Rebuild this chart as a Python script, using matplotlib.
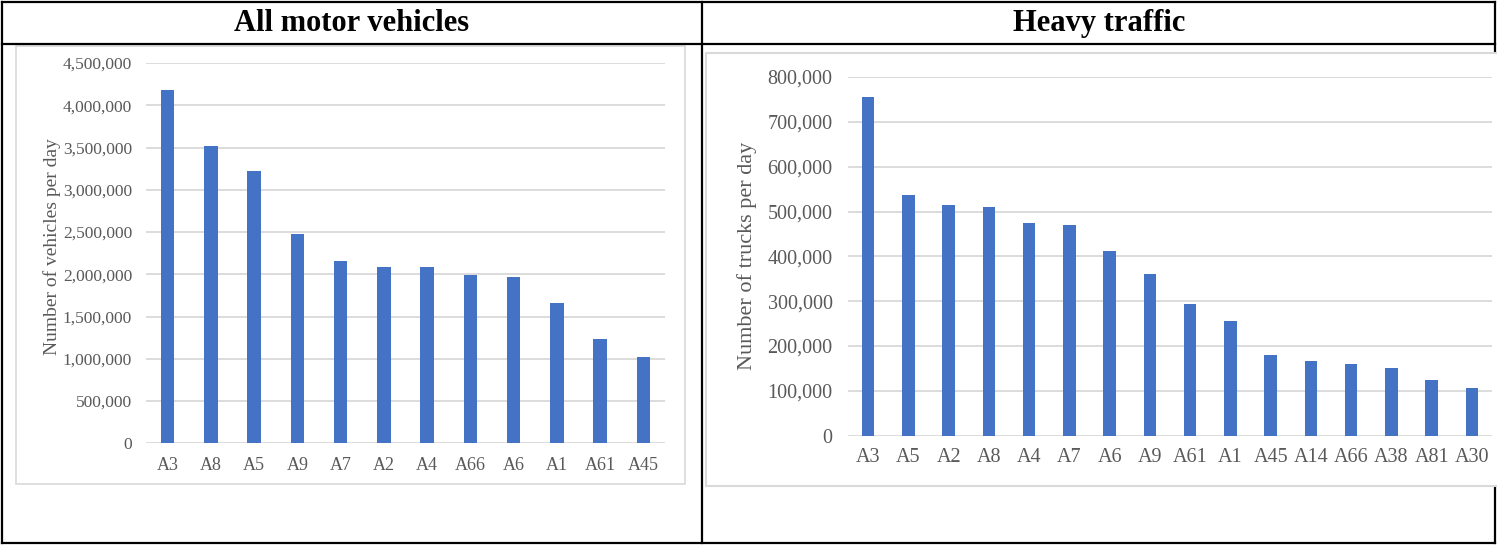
import matplotlib
matplotlib.use("Agg")
import matplotlib.pyplot as plt
from matplotlib.patches import Rectangle
from matplotlib.lines import Line2D
from matplotlib.ticker import FuncFormatter

# ---- data ----
all_roads = ["A3", "A8", "A5", "A9", "A7", "A2", "A4", "A66", "A6", "A1", "A61", "A45"]
all_values = [4180000, 3518000, 3225000, 2478000, 2158000, 2092000, 2082000, 1995000,
              1972000, 1658000, 1238000, 1020000]

heavy_roads = ["A3", "A5", "A2", "A8", "A4", "A7", "A6", "A9", "A61", "A1", "A45", "A14",
               "A66", "A38", "A81", "A30"]
heavy_values = [755000, 537000, 514000, 511000, 474000, 471000, 413000, 360000, 294000,
                256000, 180000, 166000, 160000, 152000, 125000, 107000]

titles = ["All motor vehicles", "Heavy traffic"]
ylabels = ["Number of vehicles per day", "Number of trucks per day"]

W, H = 1497, 545
fig = plt.figure(figsize=(W / 100, H / 100), dpi=100)

def fx(x):
    return x / W

def fy(y):
    return 1 - y / H

BAR = "#4472C4"
GRID = "#D9D9D9"
TXT = "#595959"
SERIF = "Liberation Serif"

# chart frames (white background, light gray border)
fig.patches.append(Rectangle((fx(16), fy(484)), fx(685 - 16), (484 - 46) / H,
                             transform=fig.transFigure, facecolor="white",
                             edgecolor=GRID, lw=1.2, zorder=1))
fig.patches.append(Rectangle((fx(706), fy(486)), fx(1505 - 706), (486 - 53) / H,
                             transform=fig.transFigure, facecolor="white",
                             edgecolor=GRID, lw=1.5, zorder=3))

# table borders
lw = 1.6
segs = [
    ((2, 2), (1495, 2)),
    ((2, 44), (1495, 44)),
    ((2, 543), (1495, 543)),
    ((2, 2), (2, 543)),
    ((702, 2), (702, 543)),
    ((1495, 2), (1495, 53)),
    ((1495, 487), (1495, 543)),
]
for (x0, y0), (x1, y1) in segs:
    fig.add_artist(Line2D([fx(x0), fx(x1)], [fy(y0), fy(y1)], transform=fig.transFigure,
                          color="black", lw=lw, zorder=2, solid_capstyle="projecting"))

# headers
fig.text(fx(352), fy(31), titles[0], ha="center", va="baseline", fontsize=22,
         fontweight="bold", family=SERIF, color="black")
fig.text(fx(1099), fy(31), titles[1], ha="center", va="baseline", fontsize=22,
         fontweight="bold", family=SERIF, color="black")

fmt = FuncFormatter(lambda v, p: f"{int(v):,}")

def make_axes(rect_px, roads, values, ymax, step, ysize, xsize, ypad, xpad):
    x0, x1, ytop, ybot = rect_px
    ax = fig.add_axes([fx(x0), fy(ybot), (x1 - x0) / W, (ybot - ytop) / H], zorder=5)
    ax.set_facecolor("none")
    xs = range(len(roads))
    ax.bar(xs, values, width=0.31, color=BAR, zorder=3)
    ax.set_xlim(-0.5, len(roads) - 0.5)
    ax.set_ylim(0, ymax)
    ax.set_yticks(range(0, ymax + 1, step))
    ax.yaxis.set_major_formatter(fmt)
    ax.set_xticks(list(xs))
    ax.set_xticklabels(roads)
    ax.grid(axis="y", color=GRID, lw=1.3, zorder=0)
    for s in ax.spines.values():
        s.set_visible(False)
    ax.tick_params(axis="both", length=0, colors=TXT)
    ax.tick_params(axis="y", pad=ypad, labelsize=ysize)
    ax.tick_params(axis="x", pad=xpad, labelsize=xsize)
    for lab in ax.get_xticklabels() + ax.get_yticklabels():
        lab.set_family(SERIF)
    return ax

make_axes((146, 665, 63, 443.3), all_roads, all_values, 4500000, 500000,
          12.5, 13, 10, 10)
make_axes((848, 1492, 77, 435.7), heavy_roads, heavy_values, 800000, 100000,
          14.5, 14.5, 11, 9)

fig.text(fx(52), fy(247), ylabels[0], rotation=90, ha="center", va="center",
         fontsize=14, family=SERIF, color=TXT, zorder=6)
fig.text(fx(747), fy(256), ylabels[1], rotation=90, ha="center", va="center",
         fontsize=16, family=SERIF, color=TXT, zorder=6)

fig.savefig("out.png", dpi=100, facecolor="white")
